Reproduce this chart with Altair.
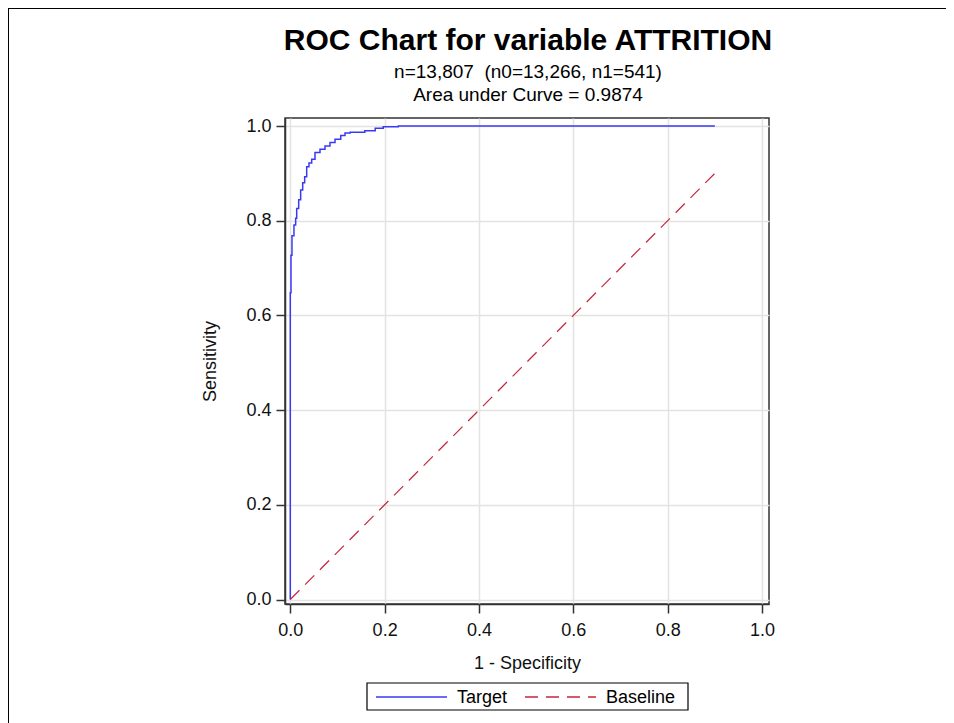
import altair as alt
import pandas as pd

# ---- data ----
fpr = [0.0, 0.0, 0.0015, 0.0036, 0.0078, 0.0114, 0.0136, 0.0178, 0.022, 0.0263,
       0.0305, 0.0348, 0.0396, 0.0454, 0.0524, 0.063, 0.0736, 0.0842, 0.0948,
       0.107, 0.116, 0.127, 0.158, 0.180, 0.197, 0.229, 0.9]
tpr = [0.0, 0.648, 0.727, 0.768, 0.791, 0.805, 0.826, 0.844, 0.865, 0.880,
       0.893, 0.914, 0.922, 0.930, 0.944, 0.951, 0.958, 0.965, 0.972,
       0.980, 0.985, 0.987, 0.990, 0.995, 0.9985, 1.0, 1.0]
base_x = [0.0, 0.9]
base_y = [0.0, 0.9]
series = ["Target", "Baseline"]
ticks = [0.0, 0.2, 0.4, 0.6, 0.8, 1.0]

title_text = "ROC Chart for variable ATTRITION"
subtitle_lines = ["n=13,807\u00a0 (n0=13,266, n1=541)", "Area under Curve = 0.9874"]

FONT = "Liberation Sans"
BLUE = "#3a3af4"
RED = "#c4263d"
DASH = [13, 8]

target_df = pd.DataFrame({"x": fpr, "y": tpr, "series": "Target",
                          "ord": list(range(len(fpr)))})
base_df = pd.DataFrame({"x": base_x, "y": base_y, "series": "Baseline",
                        "ord": [0, 1]})

color = alt.Color("series:N", scale=alt.Scale(domain=series, range=[BLUE, RED]),
                  legend=None)
dash = alt.StrokeDash("series:N",
                      scale=alt.Scale(domain=series, range=[[1, 0], DASH]),
                      legend=None)

xenc = alt.X("x:Q",
             scale=alt.Scale(domain=[-0.0112, 1.0148], nice=False, zero=False),
             axis=alt.Axis(values=ticks, format=".1f", title="1 - Specificity",
                           tickSize=9, labelPadding=8, titlePadding=15))
yenc = alt.Y("y:Q",
             scale=alt.Scale(domain=[-0.0095, 1.0169], nice=False, zero=False),
             axis=alt.Axis(values=ticks, format=".1f", title="Sensitivity",
                           tickSize=9, labelPadding=5, titlePadding=26))

target = alt.Chart(target_df).mark_line(
    interpolate="step-after", strokeWidth=1.5
).encode(x=xenc, y=yenc, order="ord:Q", color=color, strokeDash=dash)

baseline = alt.Chart(base_df).mark_line(strokeWidth=1.2).encode(
    x=xenc, y=yenc, order="ord:Q", color=color, strokeDash=dash)

one = pd.DataFrame({"a": [0]})

# outer frame of the picture (left and top edges)
left_border = alt.Chart(one).mark_rule(color="black", strokeWidth=2).encode(
    x=alt.value(-277), y=alt.value(-110), y2=alt.value(610))
top_border = alt.Chart(one).mark_rule(color="black", strokeWidth=2).encode(
    x=alt.value(-278), x2=alt.value(661), y=alt.value(-110))

# titles
title_mark = alt.Chart(one).mark_text(
    text=title_text, font=FONT, fontSize=30, fontWeight="bold", color="black",
    align="center", baseline="alphabetic"
).encode(x=alt.value(243), y=alt.value(-68))
sub1 = alt.Chart(one).mark_text(
    text=subtitle_lines[0], font=FONT, fontSize=19, color="black",
    align="center", baseline="alphabetic"
).encode(x=alt.value(243), y=alt.value(-40))
sub2 = alt.Chart(one).mark_text(
    text=subtitle_lines[1], font=FONT, fontSize=19, color="black",
    align="center", baseline="alphabetic"
).encode(x=alt.value(243), y=alt.value(-17))

# legend box
leg_box = alt.Chart(one).mark_rect(fill="white", stroke="black", strokeWidth=1.2).encode(
    x=alt.value(82), x2=alt.value(403), y=alt.value(565), y2=alt.value(592))
leg_target = alt.Chart(one).mark_rule(color=BLUE, strokeWidth=1.5).encode(
    x=alt.value(91), x2=alt.value(162), y=alt.value(579))
leg_base = alt.Chart(one).mark_rule(color=RED, strokeWidth=1.5, strokeDash=DASH).encode(
    x=alt.value(240), x2=alt.value(311), y=alt.value(579))
leg_t_label = alt.Chart(one).mark_text(
    text=series[0], font=FONT, fontSize=18, color="black", align="left",
    baseline="middle").encode(x=alt.value(172), y=alt.value(580))
leg_b_label = alt.Chart(one).mark_text(
    text=series[1], font=FONT, fontSize=18, color="black", align="left",
    baseline="middle").encode(x=alt.value(321), y=alt.value(580))

chart = alt.layer(
    target, baseline, left_border, top_border, title_mark, sub1, sub2,
    leg_box, leg_target, leg_base, leg_t_label, leg_b_label
).properties(
    width=484, height=486,
    autosize=alt.AutoSizeParams(type="none"),
    padding={"left": 277, "top": 110, "right": 177, "bottom": 120},
).configure_view(
    stroke="#333333", strokeWidth=1.5
).configure_axis(
    grid=True, gridColor="#e3e3e3", gridWidth=1.5,
    domainColor="#333333", domainWidth=1.5, tickColor="#333333", tickWidth=1.5,
    labelFont=FONT, labelFontSize=18, labelColor="#111111",
    titleFont=FONT, titleFontSize=18, titleFontWeight="normal", titleColor="#111111",
)

chart.save("out.html", embed_options={"renderer": "svg", "actions": False})
